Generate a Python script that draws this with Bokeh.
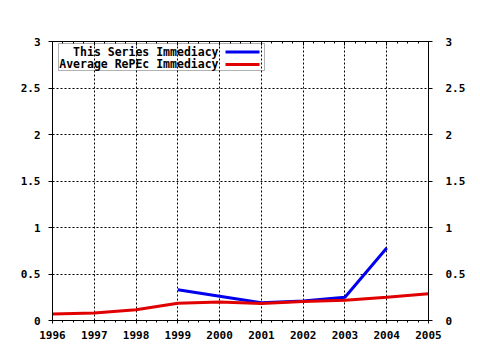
from bokeh.plotting import figure
from bokeh.models import (LinearAxis, SingleIntervalTicker, FixedTicker, Range1d,
                          Label, BoxAnnotation)
from bokeh.embed import file_html
from bokeh.resources import INLINE

# ---- data ----
years = [1996, 1997, 1998, 1999, 2000, 2001, 2002, 2003, 2004, 2005]
avg_repec_immediacy = [0.07, 0.08, 0.115, 0.185, 0.20, 0.183, 0.205, 0.218, 0.25, 0.287]
series_years = [1999, 2001, 2002, 2003, 2004]
series_immediacy = [0.33, 0.19, 0.21, 0.25, 0.78]
y_ticks = [0, 0.5, 1, 1.5, 2, 2.5, 3]
y_tick_labels = ["0", "0.5", "1", "1.5", "2", "2.5", "3"]
x_tick_labels = [str(y) for y in years]
legend_labels = ["This Series Immediacy", "Average RePEc Immediacy"]

BLUE = "#0000ee"
RED = "#e00000"
FONT = "DejaVu Sans Mono"
FSIZE = "11px"

p = figure(width=480, height=350, output_backend="svg", toolbar_location=None,
           x_range=Range1d(years[0], years[-1]), y_range=Range1d(0, 3),
           min_border_left=52, min_border_right=52, min_border_top=41,
           min_border_bottom=30, x_axis_location=None, y_axis_location=None)
p.outline_line_color = "black"
p.outline_line_width = 1
p.background_fill_color = "white"
p.border_fill_color = "white"

xt = SingleIntervalTicker(interval=1, num_minor_ticks=4)
yt = FixedTicker(ticks=y_ticks)

def style(ax):
    ax.axis_line_color = "black"
    ax.major_tick_line_color = "black"
    ax.minor_tick_line_color = "black"
    ax.major_label_text_font = FONT
    ax.major_label_text_font_style = "bold"
    ax.major_label_text_font_size = FSIZE
    ax.major_label_text_color = "black"

bottom = LinearAxis(ticker=xt,
                    major_label_overrides={y: l for y, l in zip(years, x_tick_labels)})
style(bottom)
bottom.major_tick_in = 0; bottom.major_tick_out = 3
bottom.minor_tick_in = 0; bottom.minor_tick_out = 2
bottom.major_label_standoff = 7
p.add_layout(bottom, "below")

top = LinearAxis(ticker=xt)
style(top)
top.major_label_text_alpha = 0
top.major_label_text_font_size = "1px"
top.major_tick_in = 4; top.major_tick_out = 0
top.minor_tick_in = 2; top.minor_tick_out = 0
p.add_layout(top, "above")

left = LinearAxis(ticker=yt,
                  major_label_overrides={t: l for t, l in zip(y_ticks, y_tick_labels)})
style(left)
left.major_tick_in = 0; left.major_tick_out = 4
left.minor_tick_line_color = None
left.major_label_standoff = 8
p.add_layout(left, "left")

right = LinearAxis(ticker=yt,
                   major_label_overrides={t: l for t, l in zip(y_ticks, y_tick_labels)})
style(right)
right.major_tick_in = 0; right.major_tick_out = 4
right.minor_tick_line_color = None
right.major_label_standoff = 13
p.add_layout(right, "right")

p.xgrid.ticker = xt
p.ygrid.ticker = yt
for g in (p.xgrid, p.ygrid):
    g.grid_line_color = "black"
    g.grid_line_dash = "2 2"
    g.grid_line_width = 1

p.line(series_years, series_immediacy, line_color=BLUE, line_width=3)
p.line(years, avg_repec_immediacy, line_color=RED, line_width=3)

# legend (gnuplot style: label right-aligned, sample to the right)
# screen units: test placement
p.add_layout(BoxAnnotation(left=6, right=212, top=277, bottom=250,
                           left_units="screen", right_units="screen",
                           top_units="screen", bottom_units="screen",
                           fill_color=None, line_color="black", line_width=1))
for i, (lab, col) in enumerate(zip(legend_labels, [BLUE, RED])):
    p.add_layout(Label(x=166, y=269 - 12.6 * i, x_units="screen", y_units="screen",
                       text=lab, text_align="right", text_baseline="middle",
                       text_font=FONT, text_font_style="bold", text_font_size="11.5px",
                       text_color="black"))
    p.add_layout(BoxAnnotation(left=173, right=207, top=270 - 12.6 * i,
                               bottom=267 - 12.6 * i,
                               left_units="screen", right_units="screen",
                               top_units="screen", bottom_units="screen",
                               fill_color=col, fill_alpha=1, line_color=None))

open("out.html", "w").write(file_html(p, INLINE))
